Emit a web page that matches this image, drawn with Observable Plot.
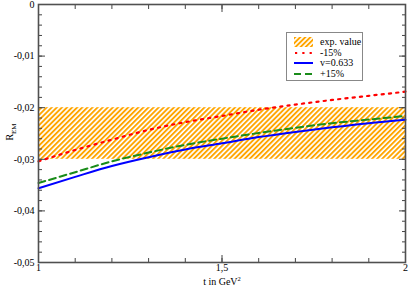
<!DOCTYPE html>
<html>
<head>
<meta charset="utf-8">
<script src="https://cdn.jsdelivr.net/npm/d3@7"></script>
<script src="https://cdn.jsdelivr.net/npm/@observablehq/plot@0.6"></script>
<style>
  html, body { margin: 0; padding: 0; background: #fff; }
  #wrap { position: relative; width: 412px; height: 289px; font-family: "Liberation Serif", "Times New Roman", "DejaVu Serif", serif; }
  #wrap svg text { font-family: "Liberation Serif", "Times New Roman", "DejaVu Serif", serif; }
  #legend { position: absolute; left: 286px; top: 32px; width: 77px; height: 49px; border: 1px solid #888; background: #fff; box-sizing: border-box; font-size: 10px; padding-top: 4px; white-space: nowrap; font-family: "Liberation Serif", "Times New Roman", serif; }
  .item { display: flex; align-items: center; height: 10.5px; line-height: 10px; white-space: nowrap; }
  .item svg { margin-left: 7px; margin-right: 7px; flex: none; }
</style>
</head>
<body>
<div id="wrap"></div>
<script>
// ---- data ----
const t = [1.0, 1.1, 1.2, 1.3, 1.4, 1.5, 1.6, 1.7, 1.8, 1.9, 2.0];
const minus15 = [-0.0304, -0.0282, -0.0262, -0.0243, -0.0228, -0.0216, -0.0204, -0.0194, -0.0185, -0.0177, -0.0169];
const v0633 = [-0.0356, -0.0334, -0.0313, -0.0296, -0.0281, -0.0269, -0.0257, -0.0247, -0.0238, -0.0230, -0.02235];
const plus15 = [-0.0346, -0.0325, -0.0304, -0.0287, -0.0272, -0.0260, -0.0249, -0.0239, -0.0230, -0.0223, -0.0216];
const bandLow = -0.03, bandHigh = -0.02;
const yTicks = [0, -0.01, -0.02, -0.03, -0.04, -0.05];
const yTickLabels = ["0", "-0,01", "-0,02", "-0,03", "-0,04", "-0,05"];
const xTicks = [1, 1.5, 2];
const xTickLabels = ["1", "1,5", "2"];
const legendLabels = ["exp. value", "-15%", "v=0.633", "+15%"];

const yMinor = d3.range(0, 26).map(i => -i * 0.002);
const xMinor = d3.range(0, 11).map(i => 1 + i * 0.1);

const rows = (ys) => t.map((x, i) => ({x, y: ys[i]}));
const fmtY = d => yTickLabels[yTicks.findIndex(v => Math.abs(v - d) < 1e-9)] ?? "";
const fmtX = d => xTickLabels[xTicks.findIndex(v => Math.abs(v - d) < 1e-9)] ?? "";

const serif = "'Liberation Serif', 'Times New Roman', serif";
const axisColor = "#444";
const plot = Plot.plot({
  width: 412, height: 289,
  marginLeft: 38, marginRight: 7, marginTop: 4, marginBottom: 27,
  style: {fontFamily: serif, fontSize: "10px", color: "#000", background: "#fff"},
  x: {domain: [1, 2]},
  y: {domain: [-0.05, 0]},
  marks: [
    Plot.rect([{x1: 1, x2: 2, y1: bandLow, y2: bandHigh}], {x1: "x1", x2: "x2", y1: "y1", y2: "y2", fill: "url(#hatch)"}),
    Plot.line(rows(v0633), {x: "x", y: "y", stroke: "#0000ff", strokeWidth: 2, curve: "monotone-x"}),
    Plot.line(rows(plus15), {x: "x", y: "y", stroke: "#1a8c1a", strokeWidth: 2, strokeDasharray: "7,4", curve: "monotone-x"}),
    Plot.line(rows(minus15), {x: "x", y: "y", stroke: "#ff0000", strokeWidth: 2.2, strokeDasharray: "2.2,5.1", curve: "monotone-x"}),
    // minor ticks
    Plot.axisY({anchor: "left", ticks: yMinor, tickSize: -4, tickFormat: () => "", stroke: axisColor, label: null}),
    Plot.axisY({anchor: "right", ticks: yMinor, tickSize: -4, tickFormat: () => "", stroke: axisColor, label: null}),
    Plot.axisX({anchor: "bottom", ticks: xMinor, tickSize: -4, tickFormat: () => "", stroke: axisColor, label: null}),
    Plot.axisX({anchor: "top", ticks: xMinor, tickSize: -4, tickFormat: () => "", stroke: axisColor, label: null}),
    // major ticks
    Plot.axisY({anchor: "left", ticks: yTicks, tickSize: -7, tickFormat: () => "", stroke: axisColor, label: null}),
    Plot.axisY({anchor: "right", ticks: yTicks, tickSize: -7, tickFormat: () => "", stroke: axisColor, label: null}),
    Plot.axisX({anchor: "bottom", ticks: xTicks, tickSize: -7, tickFormat: () => "", stroke: axisColor, label: null}),
    Plot.axisX({anchor: "top", ticks: xTicks, tickSize: -7, tickFormat: () => "", stroke: axisColor, label: null}),
    // labels
    Plot.axisY({anchor: "left", ticks: yTicks, tickSize: 0, tickPadding: 4, tickFormat: fmtY, label: null, fontFamily: serif}),
    Plot.axisX({anchor: "bottom", ticks: xTicks, tickSize: 0, tickPadding: 1, tickFormat: fmtX, label: null, fontFamily: serif}),
    Plot.frame({stroke: "#505050", strokeWidth: 1.6})
  ]
});

const svg = d3.select(plot);
const defs = svg.insert("defs", ":first-child");
const pat = defs.append("pattern").attr("id", "hatch").attr("patternUnits", "userSpaceOnUse")
  .attr("width", 3.6).attr("height", 3.6).attr("patternTransform", "rotate(45)");
pat.append("rect").attr("width", 3.6).attr("height", 3.6).attr("fill", "#fff");
pat.append("rect").attr("width", 1.9).attr("height", 3.6).attr("fill", "#ffa500");

// axis titles
const yl = svg.append("text").attr("transform", "translate(13,132) rotate(-90)")
  .attr("text-anchor", "middle").attr("font-size", 10).attr("fill", "#000").attr("font-family", serif);
yl.append("tspan").text("R");
yl.append("tspan").attr("font-size", 7).attr("dy", 2.5).text("EM");

const xl = svg.append("text").attr("x", 222).attr("y", 285)
  .attr("text-anchor", "middle").attr("font-size", 10).attr("fill", "#000").attr("font-family", serif);
xl.append("tspan").text("t in GeV");
xl.append("tspan").attr("font-size", 6.5).attr("dy", -4.5).text("2");

const wrap = document.getElementById("wrap");
wrap.appendChild(plot);

// legend
const lg = document.createElement("div");
lg.id = "legend";
const swatches = [
  `<svg width="19" height="10"><rect x="0" y="0" width="19" height="10" fill="url(#hatch)"/></svg>`,
  `<svg width="19" height="10"><line x1="1" x2="19" y1="5" y2="5" stroke="#ff0000" stroke-width="2.2" stroke-dasharray="2.2,5.1"/></svg>`,
  `<svg width="19" height="10"><line x1="0" x2="19" y1="5" y2="5" stroke="#0000ff" stroke-width="2"/></svg>`,
  `<svg width="19" height="10"><line x1="0" x2="19" y1="5" y2="5" stroke="#1a8c1a" stroke-width="2" stroke-dasharray="7,4"/></svg>`
];
lg.innerHTML = legendLabels.map((l, i) => `<div class="item">${swatches[i]}<span>${l}</span></div>`).join("");
wrap.appendChild(lg);
</script>
</body>
</html>
